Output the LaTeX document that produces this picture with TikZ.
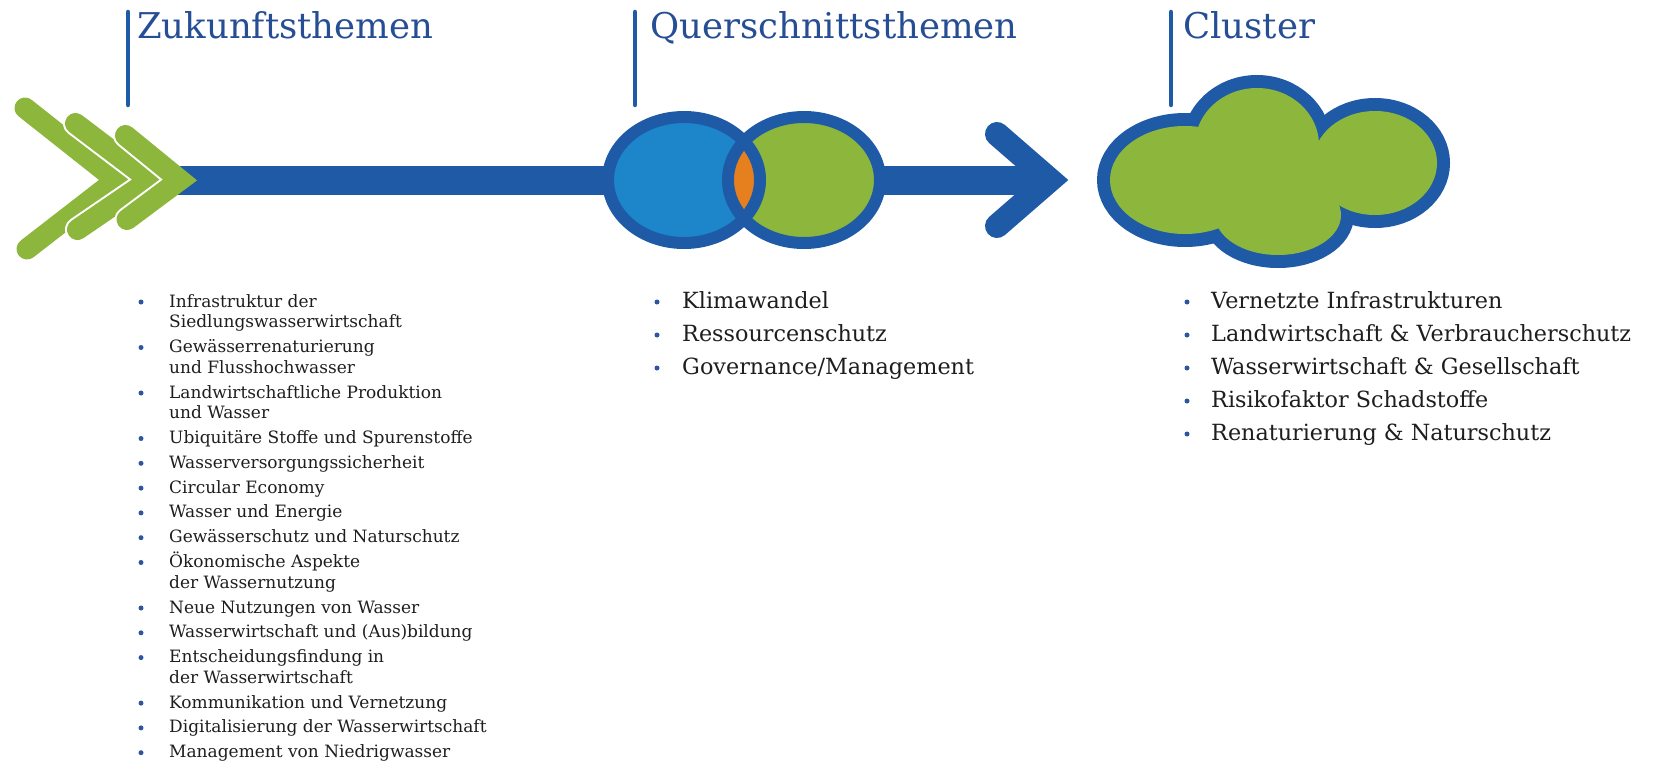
\documentclass[tikz,border=0pt]{standalone}
\usepackage{fontspec}
\setmainfont{DejaVu Serif}
\definecolor{dblue}{RGB}{31,90,166}
\definecolor{lblue}{RGB}{29,133,202}
\definecolor{cgreen}{RGB}{141,182,60}
\definecolor{corange}{RGB}{230,128,30}
\definecolor{tblue}{RGB}{38,78,148}
\definecolor{txt}{RGB}{30,30,30}
\definecolor{bblue}{RGB}{45,85,160}
\begin{document}
\begin{tikzpicture}[x=1bp,y=-1bp,
  vbar/.style={draw=dblue,line width=4.5bp,line cap=round},
  title/.style={anchor=base west,inner sep=0,text=tblue,font=\fontsize{35.5bp}{40bp}\selectfont},
  litem/.style={anchor=base west,inner sep=0,text=txt,font=\fontsize{17bp}{20bp}\selectfont},
  bitem/.style={anchor=base west,inner sep=0,text=txt,font=\fontsize{22.3bp}{26bp}\selectfont},
  bul/.style={circle,fill=bblue,inner sep=0,minimum size=5bp},
  chevw/.style={draw=white,line width=25bp,line cap=round,line join=miter},
  chevg/.style={draw=cgreen,line width=21bp,line cap=round,line join=miter},
  arrowhd/.style={draw=dblue,line width=24bp,line cap=round,line join=miter},
  mainbar/.style={draw=dblue,line width=29bp},
  ring/.style={draw=dblue,line width=12bp},
  cloudedge/.style={draw=dblue,line width=26bp}
]
\useasboundingbox (0,0) rectangle (1653,764);
\fill[white] (0,0) rectangle (1653,764);

% title bars and titles
\draw[vbar] (128,12) -- (128,105);
\draw[vbar] (635,12) -- (635,105);
\draw[vbar] (1171,12) -- (1171,105);
\node[title] (t1) at (137,39) {Zukunftsthemen};
\node[title] (t2) at (650,39) {Querschnittsthemen};
\node[title] (t3) at (1183,39) {Cluster};

% chevrons
\draw[chevg] (25,108) -- (116,180) -- (27,249);
\draw[chevw] (75.5,123.5) -- (150,180) -- (77.5,229.5);
\draw[chevg] (75.5,123.5) -- (150,180) -- (77.5,229.5);
\draw[chevw] (125.5,135.5) -- (180,180) -- (127,219.5);

% main bar
\coordinate (barL) at (168,180);
\coordinate (barR) at (1048,180);
\draw[mainbar] (barL) -- (barR);

\draw[chevg] (125.5,135.5) -- (180,180) -- (127,219.5);

% circles
\fill[lblue] (684,180) ellipse [x radius=76, y radius=63];
\fill[cgreen] (804,180) ellipse [x radius=76, y radius=63];
\begin{scope}
  \clip (684,180) ellipse [x radius=76, y radius=63];
  \fill[corange] (804,180) ellipse [x radius=76, y radius=63];
\end{scope}
\draw[ring] (684,180) ellipse [x radius=76, y radius=63];
\draw[ring] (804,180) ellipse [x radius=76, y radius=63];

% arrow head
\draw[arrowhd] (997,134) -- (1050,180) -- (997,226);

% cloud
\foreach \cx/\cy/\rx/\ry in {1185/180/75/54, 1257/145/62/57, 1375/163/62/52, 1278/215/63/40, 1275/175/107/37}{
  \draw[cloudedge] (\cx,\cy) ellipse [x radius=\rx, y radius=\ry];
}
\foreach \cx/\cy/\rx/\ry in {1185/180/75/54, 1257/145/62/57, 1375/163/62/52, 1278/215/63/40, 1275/175/107/37}{
  \fill[cgreen] (\cx,\cy) ellipse [x radius=\rx, y radius=\ry];
}

% left list
\node[bul] (lb1) at (141,302) {};
\node[litem] (l1a) at (169,307) {Infrastruktur der};
\node[litem] (l1b) at (169,327.7) {Siedlungswasserwirtschaft};
\node[bul] (lb2) at (141,347.5) {};
\node[litem] (l2a) at (169,352.5) {Gewässerrenaturierung};
\node[litem] (l2b) at (169,373.2) {und Flusshochwasser};
\node[bul] (lb3) at (141,393) {};
\node[litem] (l3a) at (169,398) {Landwirtschaftliche Produktion};
\node[litem] (l3b) at (169,418.7) {und Wasser};
\node[bul] (lb4) at (141,438.5) {};
\node[litem] (l4) at (169,443.5) {Ubiquitäre Stoffe und Spurenstoffe};
\node[bul] (lb5) at (141,463.3) {};
\node[litem] (l5) at (169,468.3) {Wasserversorgungssicherheit};
\node[bul] (lb6) at (141,488.1) {};
\node[litem] (l6) at (169,493.1) {Circular Economy};
\node[bul] (lb7) at (141,512.9) {};
\node[litem] (l7) at (169,517.9) {Wasser und Energie};
\node[bul] (lb8) at (141,537.7) {};
\node[litem] (l8) at (169,542.7) {Gewässerschutz und Naturschutz};
\node[bul] (lb9) at (141,562.5) {};
\node[litem] (l9a) at (169,567.5) {Ökonomische Aspekte};
\node[litem] (l9b) at (169,588.2) {der Wassernutzung};
\node[bul] (lb10) at (141,608) {};
\node[litem] (l10) at (169,613) {Neue Nutzungen von Wasser};
\node[bul] (lb11) at (141,632.8) {};
\node[litem] (l11) at (169,637.8) {Wasserwirtschaft und (Aus)bildung};
\node[bul] (lb12) at (141,657.6) {};
\node[litem] (l12a) at (169,662.6) {Entscheidungsfindung in};
\node[litem] (l12b) at (169,683.3) {der Wasserwirtschaft};
\node[bul] (lb13) at (141,703.1) {};
\node[litem] (l13) at (169,708.1) {Kommunikation und Vernetzung};
\node[bul] (lb14) at (141,727.9) {};
\node[litem] (l14) at (169,732.9) {Digitalisierung der Wasserwirtschaft};
\node[bul] (lb15) at (141,752.7) {};
\node[litem] (l15) at (169,757.7) {Management von Niedrigwasser};

% middle list
\node[bul] (mb1) at (657,302) {};
\node[bitem] (m1) at (682,308) {Klimawandel};
\node[bul] (mb2) at (657,335) {};
\node[bitem] (m2) at (682,341) {Ressourcenschutz};
\node[bul] (mb3) at (657,368) {};
\node[bitem] (m3) at (682,374) {Governance/Management};

% right list
\node[bul] (rb1) at (1187,302) {};
\node[bitem] (r1) at (1211,308) {Vernetzte Infrastrukturen};
\node[bul] (rb2) at (1187,335) {};
\node[bitem] (r2) at (1211,341) {Landwirtschaft \& Verbraucherschutz};
\node[bul] (rb3) at (1187,368) {};
\node[bitem] (r3) at (1211,374) {Wasserwirtschaft \& Gesellschaft};
\node[bul] (rb4) at (1187,401) {};
\node[bitem] (r4) at (1211,407) {Risikofaktor Schadstoffe};
\node[bul] (rb5) at (1187,434) {};
\node[bitem] (r5) at (1211,440) {Renaturierung \& Naturschutz};
\end{tikzpicture}
\end{document}
